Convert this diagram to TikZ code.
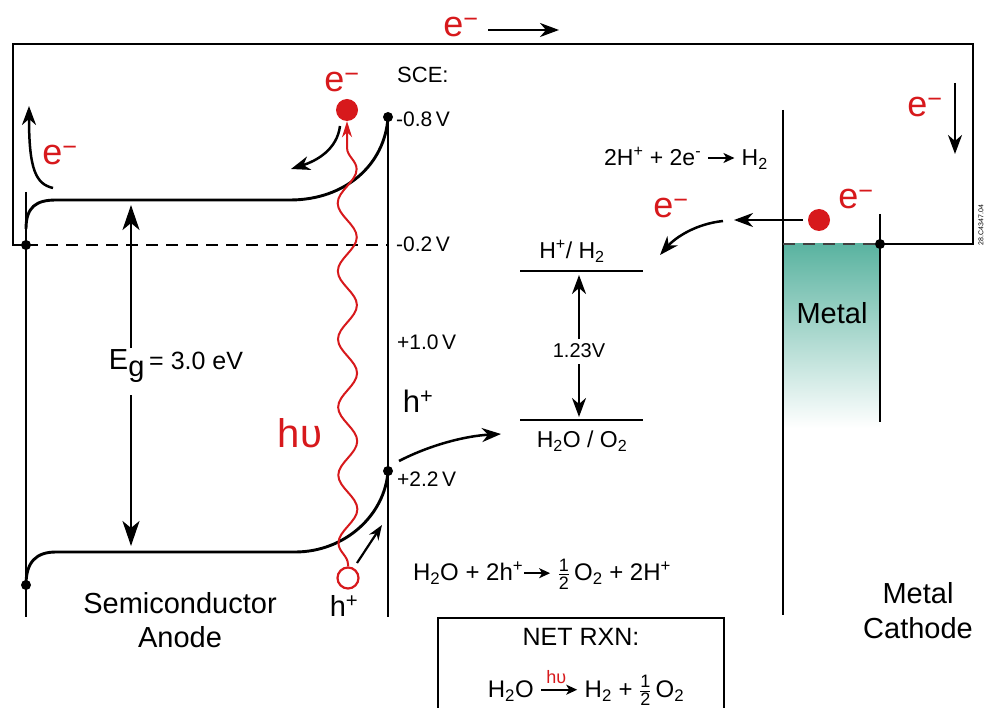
\documentclass[tikz,border=0pt]{standalone}
\usepackage{fontspec}
\setmainfont{Liberation Sans}
\usepackage{amsmath}
\usetikzlibrary{arrows.meta,decorations.pathmorphing}
\definecolor{ered}{HTML}{D7191C}
\definecolor{metalteal}{HTML}{5AB3A0}
\newcommand{\fs}[1]{\fontsize{#1}{#1}\selectfont}
\newcommand{\rxarrow}{\tikz[baseline=-0.6ex]\draw[line width=1.8pt,-{Stealth[length=11pt,width=10pt,inset=3pt]}] (0pt,0pt) -- (26pt,0pt);}
\newcommand{\netarrow}{\tikz[baseline=-0.6ex]{\draw[line width=1.6pt,-{Stealth[length=11pt,width=10pt,inset=3pt]}] (0pt,0pt) -- (36pt,0pt);\node[text=ered,inner sep=0pt,font=\fs{18}] at (15pt,13pt) {hυ};}}
\newcommand{\halfx}{$\frac{\text{\fs{18}1}}{\text{\fs{18}2}}$}
\newcommand{\emn}{e\textsuperscript{−}}
\begin{document}
\begin{tikzpicture}[x=1pt,y=-1pt,
  band/.style={line width=2.9pt},
  wire/.style={line width=2.9pt, line join=miter},
  dotn/.style={circle, fill=black, inner sep=0pt, minimum size=10pt},
  arrbig/.style={line width=2.5pt, -{Stealth[length=25pt,width=17pt,inset=7pt]}},
  arrmid/.style={line width=2.5pt, -{Stealth[length=19pt,width=14pt,inset=6pt]}},
  arrsmall/.style={line width=2.2pt, -{Stealth[length=15pt,width=11pt,inset=5pt]}},
  lbl/.style={inner sep=0pt, font=\fs{21}},
  redlbl/.style={inner sep=0pt, text=ered, font=\fs{36}},
  bigl/.style={inner sep=0pt, font=\fs{29}, align=center},
  dashl/.style={line width=2.4pt, dash pattern=on 12pt off 8pt},
]
\useasboundingbox (0,0) rectangle (987,708);

% metal fill
\shade[top color=metalteal, middle color=metalteal!60, bottom color=white] (783,244) rectangle (880,428);

% key points
\node[dotn] (fermi) at (26,245) {};
\node[dotn] (cbtop) at (388,117) {};
\node[dotn] (vbtop) at (388,471) {};
\node[dotn] (vbl) at (26,585) {};
\node[dotn] (mdot) at (880,244) {};
\coordinate (wL) at (13,245);
\coordinate (wTL) at (13,44);
\coordinate (wTR) at (973,44);
\coordinate (wR) at (973,244);

% external circuit
\draw[wire] (fermi.center) -- (wL) -- (wTL) -- (wTR) -- (wR) -- (mdot.center);

% semiconductor
\coordinate (sLtop) at (26,192);
\coordinate (sLbot) at (26,617);
\coordinate (sRbot) at (388,617);
\draw[band] (sLtop) -- (sLbot);
\draw[band] (cbtop.center) -- (sRbot);
\draw[band] (26,229) .. controls (26,207) and (36,200) .. (56,200) -- (290,200) .. controls (345,200) and (385,165) .. (cbtop.center);
\draw[band] (vbl.center) .. controls (26,562) and (36,552) .. (56,552) -- (295,552) .. controls (345,552) and (385,515) .. (vbtop.center);
\coordinate (fermiR) at (388,245);
\draw[dashl] (fermi.center) -- (fermiR);

% band gap
\node[inner sep=0pt, font=\fs{29}] (eg) at (176,366) {E\raisebox{-7pt}{g}\,{\fs{25}= 3.0 eV}};
\coordinate (egT) at (131,205);
\coordinate (egB) at (131,546);
\coordinate (eg1) at (131,348);
\coordinate (eg2) at (131,395);
\draw[arrbig] (eg1) -- (egT);
\draw[arrbig] (eg2) -- (egB);

% photon, electron, hole
\node[circle, fill=ered, minimum size=22pt, inner sep=0pt] (edot) at (347,110) {};
\node[circle, draw=ered, line width=2.2pt, minimum size=21pt, inner sep=0pt] (hole) at (348,578) {};
\draw[ered, line width=2pt, decorate, decoration={snake, amplitude=9.5pt, segment length=68pt, pre length=2pt, post length=16pt}, -{Stealth[length=16pt,width=10pt,inset=5pt]}] (hole.north) -- (edot.south);
\node[redlbl] (ephot) at (342,82) {\emn};
\node[inner sep=0pt, font=\fs{29}] (hbot) at (344,606) {h\textsuperscript{+}};
\node[inner sep=0pt, text=ered, font=\fs{40}] (hnu) at (300,433) {hυ};

% electron drift arrows
\coordinate (ea1) at (340,126);
\coordinate (ea2) at (291,169);
\draw[arrmid] (ea1) .. controls (337,150) and (316,161) .. (ea2);
\coordinate (la1) at (53,188);
\coordinate (la2) at (29,106);
\draw[arrmid] (la1) .. controls (36,184) and (29,170) .. (la2);
\node[redlbl] (eleft) at (60,155) {\emn};

% top arrow
\node[redlbl] (etop) at (461,27) {\emn};
\coordinate (ta1) at (488,30);
\coordinate (ta2) at (559,30);
\draw[arrmid] (ta1) -- (ta2);

% right arrow
\node[redlbl] (eright) at (925,107) {\emn};
\coordinate (ra1) at (955,83);
\coordinate (ra2) at (955,154);
\draw[arrmid] (ra1) -- (ra2);

% hole arrows
\coordinate (ha1) at (357,563);
\coordinate (ha2) at (382,525);
\draw[arrsmall] (ha1) -- (ha2);
\node[inner sep=0pt, font=\fs{31}] (hint) at (418,401) {h\textsuperscript{+}};
\coordinate (oa1) at (399,461);
\coordinate (oa2) at (501,434);
\draw[arrmid] (oa1) .. controls (430,445) and (465,436) .. (oa2);

% SCE scale
\node[lbl, font=\fs{22}, anchor=west] (sce) at (397,75) {SCE:};
\node[lbl, anchor=west] (v1) at (396,119) {-0.8\,V};
\node[lbl, anchor=west] (v2) at (396,244) {-0.2\,V};
\node[lbl, anchor=west] (v3) at (397,342) {+1.0\,V};
\node[lbl, anchor=west] (v4) at (397,479) {+2.2\,V};

% redox levels
\coordinate (hl1) at (520,271);
\coordinate (hl2) at (643,271);
\coordinate (ol1) at (520,420);
\coordinate (ol2) at (643,420);
\draw[band] (hl1) -- (hl2);
\draw[band] (ol1) -- (ol2);
\node[lbl, font=\fs{23}] (hh2) at (572,251) {H\textsuperscript{+}/ H\textsubscript{2}};
\node[lbl, font=\fs{23}] (h2oo2) at (582,441) {H\textsubscript{2}O / O\textsubscript{2}};
\node[lbl, font=\fs{20}] (v123) at (579,351) {1.23V};
\coordinate (d1) at (579,339);
\coordinate (d2) at (579,275);
\coordinate (d3) at (579,364);
\coordinate (d4) at (579,417);
\draw[arrmid] (d1) -- (d2);
\draw[arrmid] (d3) -- (d4);

% reactions
\node[lbl, font=\fs{23}] (rxh) at (686,158) {2H\textsuperscript{+} + 2e\textsuperscript{-} \rxarrow{} H\textsubscript{2}};
\node[lbl, font=\fs{24}] (rxo) at (542,574) {H\textsubscript{2}O + 2h\textsuperscript{+}\rxarrow{} \halfx\,O\textsubscript{2} + 2H\textsuperscript{+}};

% metal cathode
\coordinate (mLtop) at (783,110);
\coordinate (mLbot) at (783,615);
\coordinate (mRtop) at (880,214);
\coordinate (mRbot) at (880,422);
\draw[band] (mLtop) -- (mLbot);
\draw[band] (mRtop) -- (mRbot);
\coordinate (mL) at (783,244);
\draw[dashl, black!75] (mL) -- (mdot.center);
\node[bigl] (metal) at (832,313) {Metal};
\node[circle, fill=ered, minimum size=22pt, inner sep=0pt] (mel) at (819,220) {};
\node[redlbl] (emetal) at (856,199) {\emn};
\coordinate (ma1) at (803,220);
\coordinate (ma2) at (734,220);
\draw[arrmid] (ma1) -- (ma2);
\coordinate (mc1) at (723,221);
\coordinate (mc2) at (660,255);
\draw[arrmid] (mc1) .. controls (695,224) and (675,238) .. (mc2);
\node[redlbl] (emid) at (671,208) {\emn};

% labels
\node[bigl] (semi) at (180,603) {Semiconductor};
\node[bigl] (anode) at (180,637) {Anode};
\node[bigl] (metalc) at (918,593) {Metal};
\node[bigl] (cath) at (918,628) {Cathode};
\node[inner sep=0pt, font=\fs{7}, rotate=90] (code) at (981,225) {28.C4347.04};

% net reaction box
\coordinate (b1) at (438,712);
\coordinate (b2) at (438,618);
\coordinate (b3) at (724,618);
\coordinate (b4) at (724,712);
\draw[wire] (b1) -- (b2) -- (b3) -- (b4);
\node[lbl, font=\fs{25}] (net) at (581,637) {NET RXN:};
\node[lbl, font=\fs{24}] (neteq) at (586,688) {H\textsubscript{2}O \netarrow{} H\textsubscript{2} + \halfx\,O\textsubscript{2}};
\end{tikzpicture}
\end{document}
